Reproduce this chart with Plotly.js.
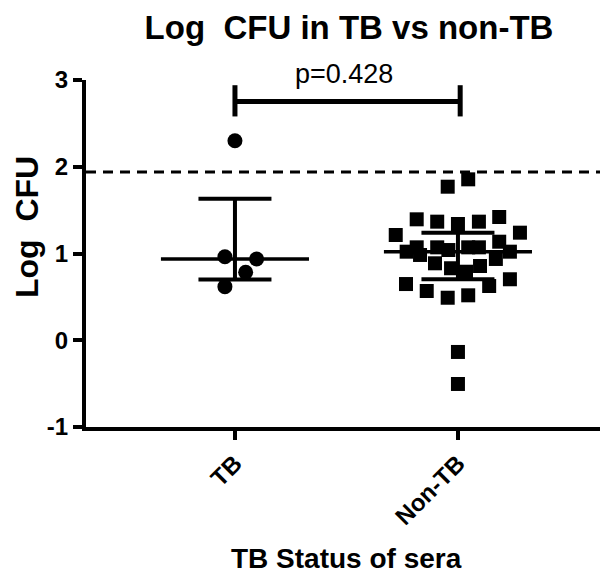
<!DOCTYPE html>
<html><head><meta charset="utf-8">
<script src="https://cdn.plot.ly/plotly-3.0.1.min.js"></script>
<style>html,body{margin:0;padding:0;background:#fff}#chart{width:600px;height:575px}</style>
</head><body><div id="chart"></div>
<script>
// ---- data ----
const categories = ['TB', 'Non-TB'];
const tbValues  = [2.30, 0.963, 0.937, 0.783, 0.618];
const tbOffsets = [0.00, -0.045, 0.097, 0.048, -0.045];
const nonTbValues = [1.855, 1.770, 1.394, 1.367, 1.340, 1.367, 1.421, 1.213, 1.240,
                     1.071, 1.021, 1.071, 1.040, 1.071, 1.071, 1.136, 1.021,
                     0.983, 0.887, 0.937, 0.830, 0.790, 0.856,
                     0.648, 0.568, 0.490, 0.518, 0.625, 0.703, -0.135, -0.504];
const nonTbOffsets = [0.046, -0.046, -0.185, -0.093, 0.000, 0.094, 0.185, -0.279, 0.278,
                      -0.185, -0.230, -0.093, -0.043, 0.046, 0.094, 0.185, 0.233,
                      -0.170, -0.103, 0.170, -0.031, 0.036, 0.099,
                      -0.233, -0.140, -0.046, 0.046, 0.140, 0.233, 0.000, 0.000];
const thresholdValue = 1.94;
const pValueText = 'p=0.428';
const bracketLow = 2.58, bracketHigh = 2.94, bracketLevel = 2.752;
const yTicks = [-1, 0, 1, 2, 3];

// ---- summary stats (median + interquartile range, n+1 method) ----
function quantile(arr, p) {
  const s = [...arr].sort((a, b) => a - b);
  const pos = p * (s.length + 1) - 1;
  const lo = Math.floor(pos), hi = Math.ceil(pos);
  return s[lo] + (s[hi] - s[lo]) * (pos - lo);
}
const groups = [tbValues, nonTbValues];
const medians = groups.map(g => quantile(g, 0.5));
const q1 = groups.map(g => quantile(g, 0.25));
const q3 = groups.map(g => quantile(g, 0.75));

const xPos = [1, 2];
const xRange = [0.332, 2.637];
const FONT = 'Liberation Sans, Arial, sans-serif';

const traces = [];
// threshold dashed line
traces.push({x: xRange, y: [thresholdValue, thresholdValue], mode: 'lines',
  line: {color: '#000', width: 3, dash: '10px,7px'}, hoverinfo: 'skip'});
// points
traces.push({x: tbValues.map((v, i) => xPos[0] + tbOffsets[i]), y: tbValues, mode: 'markers',
  marker: {symbol: 'circle', size: 15, color: '#000'}});
traces.push({x: nonTbValues.map((v, i) => xPos[1] + nonTbOffsets[i]), y: nonTbValues, mode: 'markers',
  marker: {symbol: 'square', size: 14, color: '#000'}});
// median lines
xPos.forEach((c, i) => {
  traces.push({x: [c - 0.332, c + 0.332], y: [medians[i], medians[i]], mode: 'lines',
    line: {color: '#000', width: 3.5}, hoverinfo: 'skip'});
});
// IQR bars
traces.push({x: xPos, y: medians, mode: 'markers', marker: {size: 1, opacity: 0},
  error_y: {type: 'data', symmetric: false,
    array: q3.map((v, i) => v - medians[i]),
    arrayminus: q1.map((v, i) => medians[i] - v),
    color: '#000', thickness: 4, width: 36.5}});
// significance bracket
traces.push({x: [xPos[0], xPos[0], null, xPos[0], xPos[1] + 0.01, null, xPos[1] + 0.01, xPos[1] + 0.01],
  y: [bracketHigh, bracketLow, null, bracketLevel, bracketLevel, null, bracketHigh, bracketLow],
  mode: 'lines', line: {color: '#000', width: 5}, connectgaps: false, hoverinfo: 'skip'});

const layout = {
  width: 600, height: 575,
  margin: {l: 86, r: 0, t: 80, b: 148},
  paper_bgcolor: '#fff', plot_bgcolor: '#fff',
  showlegend: false,
  font: {family: FONT, color: '#000'},
  title: {text: 'Log  CFU in TB vs non-TB', font: {family: FONT, size: 33, weight: 'bold', color: '#000'},
    x: 349 / 600, xanchor: 'center', xref: 'container', y: 1 - 27 / 575, yanchor: 'middle', yref: 'container'},
  xaxis: {range: xRange, tickvals: xPos, ticktext: categories, tickangle: -45,
    ticks: 'outside', ticklen: 9, tickwidth: 4, tickcolor: '#000',
    showline: true, linewidth: 4, linecolor: '#000', showgrid: false, zeroline: false,
    tickfont: {family: FONT, size: 24, weight: 'bold', color: '#000'}},
  yaxis: {range: [-1, 3], tickvals: yTicks, ticktext: yTicks.map(String),
    ticks: 'outside', ticklen: 9, tickwidth: 4, tickcolor: '#000',
    showline: true, linewidth: 4, linecolor: '#000', showgrid: false, zeroline: false,
    tickfont: {family: FONT, size: 24, weight: 'bold', color: '#000'}},
  annotations: [
    {text: pValueText, x: 1.49, xref: 'x', y: 0, yref: 'paper', showarrow: false,
     font: {family: FONT, size: 27, color: '#000'}, xanchor: 'center', yanchor: 'middle'},
    {text: 'Log  CFU', textangle: -90, x: 0, xref: 'paper', y: 0, yref: 'paper', showarrow: false,
     font: {family: FONT, size: 32, weight: 'bold', color: '#000'}, xanchor: 'center', yanchor: 'middle'},
    {text: 'TB Status of sera', x: 0, xref: 'paper', y: 0, yref: 'paper', showarrow: false,
     font: {family: FONT, size: 28, weight: 'bold', color: '#000'}, xanchor: 'center', yanchor: 'middle'}
  ]
};
// convert pixel-based annotation anchors to paper coordinates
const plotH = 575 - 80 - 148, plotW = 600 - 86;
layout.annotations[0].y = (427 - 74) / plotH;
layout.annotations[1].x = (26.5 - 86) / plotW;
layout.annotations[1].y = (427 - 227.5) / plotH;
layout.annotations[2].x = (346.5 - 86) / plotW;
layout.annotations[2].y = (427 - 558) / plotH;

Plotly.newPlot('chart', traces, layout, {displayModeBar: false, staticPlot: true});
</script>
</body></html>
